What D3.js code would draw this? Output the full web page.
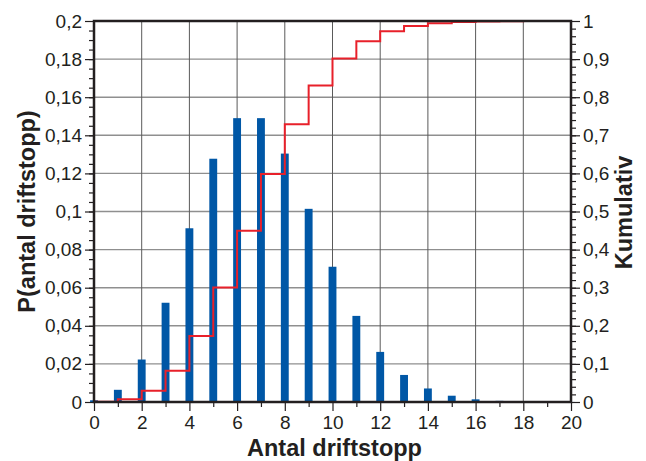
<!DOCTYPE html>
<html><head><meta charset="utf-8">
<script src="https://cdn.jsdelivr.net/npm/d3@7"></script>
<style>body{margin:0;background:#fff}svg{display:block}text{font-family:"Liberation Sans",Arial,sans-serif;fill:#231f20}</style>
</head><body>
<svg id="c" width="646" height="461"></svg>
<script>
const counts = [0,1,2,3,4,5,6,7,8,9,10,11,12,13,14,15,16,17,18,19,20];
const probs = [0.0009,0.0064,0.0223,0.0521,0.0912,0.1277,0.149,0.149,0.1304,0.1014,0.071,0.0452,0.0263,0.0142,0.0071,0.0033,0.0014,0.0006,0.0002,0.0001,0.00003];
const cumul = [0.0009,0.0073,0.0296,0.0818,0.173,0.3007,0.4497,0.5987,0.7291,0.8305,0.9015,0.9467,0.973,0.9872,0.9943,0.9976,0.999,0.9996,0.9998,0.9999,1.0];
const xTicks = [0,2,4,6,8,10,12,14,16,18,20];
const yLeftTicks = [0,0.02,0.04,0.06,0.08,0.1,0.12,0.14,0.16,0.18,0.2];
const yRightTicks = [0,0.1,0.2,0.3,0.4,0.5,0.6,0.7,0.8,0.9,1];
const xTitle = "Antal driftstopp", yLeftTitle = "P(antal driftstopp)", yRightTitle = "Kumulativ";

const L=94, R=571, T=21, B=402;
const svg = d3.select("#c");
const x = d3.scaleLinear().domain([0,20]).range([L,R]);
const yL = d3.scaleLinear().domain([0,0.2]).range([B,T]);
const yR = d3.scaleLinear().domain([0,1]).range([B,T]);
const fmt = d => String(+d.toFixed(3)).replace(".", ",");

// grid
svg.append("g").selectAll("line").data(yLeftTicks.slice(1,-1)).join("line")
  .attr("x1",L).attr("x2",R).attr("y1",d=>yL(d)).attr("y2",d=>yL(d))
  .attr("stroke","#8f8f8f").attr("stroke-width",1.4);
svg.append("g").selectAll("line").data(xTicks.slice(1,-1)).join("line")
  .attr("y1",T).attr("y2",B).attr("x1",d=>x(d)).attr("x2",d=>x(d))
  .attr("stroke","#5a5a5a").attr("stroke-width",1);

// bars
const bw = (x(1)-x(0))*0.33;
svg.append("g").selectAll("rect").data(counts).join("rect")
  .attr("x",d=>x(d)-bw/2).attr("width",bw)
  .attr("y",(d,i)=>yL(probs[i])).attr("height",(d,i)=>B-yL(probs[i]))
  .attr("fill","#0057a6");

// cumulative step line
const line = d3.line().x(d=>x(d[0])).y(d=>yR(d[1])).curve(d3.curveStepAfter);
svg.append("path").datum(counts.map((c,i)=>[c,cumul[i]]))
  .attr("d",line).attr("fill","none").attr("stroke","#e8202a").attr("stroke-width",2);

// axes
const ax = svg.append("g").attr("transform",`translate(0,${B})`)
  .call(d3.axisBottom(x).tickValues(xTicks).tickSize(9).tickPadding(5).tickFormat(d=>d));
const axm = svg.append("g").attr("transform",`translate(0,${B})`)
  .call(d3.axisBottom(x).tickValues(d3.range(1,20,2)).tickSize(5).tickFormat(""));
const ayl = svg.append("g").attr("transform",`translate(${L},0)`)
  .call(d3.axisLeft(yL).tickValues(yLeftTicks).tickSize(9).tickPadding(3).tickFormat(fmt));
const aylm = svg.append("g").attr("transform",`translate(${L},0)`)
  .call(d3.axisLeft(yL).tickValues(d3.range(0.005,0.2,0.005)).tickSize(5).tickFormat(""));
const ayr = svg.append("g").attr("transform",`translate(${R},0)`)
  .call(d3.axisRight(yR).tickValues(yRightTicks).tickSize(9).tickPadding(3).tickFormat(fmt));
const ayrm = svg.append("g").attr("transform",`translate(${R},0)`)
  .call(d3.axisRight(yR).tickValues(d3.range(0.02,1,0.02)).tickSize(5).tickFormat(""));
[ax,axm,ayl,aylm,ayr,ayrm].forEach(g=>{
  g.select(".domain").remove();
  g.selectAll(".tick line").attr("stroke","#231f20").attr("stroke-width",1.2);
  g.selectAll("text").style("font-size","19px").attr("fill","#231f20");
});

// frame
svg.append("rect").attr("x",L).attr("y",T).attr("width",R-L).attr("height",B-T)
  .attr("fill","none").attr("stroke","#231f20").attr("stroke-width",2.5);

// titles
svg.append("text").attr("x",(L+R)/2+2).attr("y",456).attr("text-anchor","middle")
  .style("font-size","23.5px").style("font-weight","bold").text(xTitle);
svg.append("text").attr("transform",`translate(35,${(T+B)/2}) rotate(-90)`).attr("text-anchor","middle")
  .style("font-size","23.5px").style("font-weight","bold").text(yLeftTitle);
svg.append("text").attr("transform",`translate(632,${(T+B)/2+1}) rotate(-90)`).attr("text-anchor","middle")
  .style("font-size","23.5px").style("font-weight","bold").text(yRightTitle);
</script>
</body></html>
